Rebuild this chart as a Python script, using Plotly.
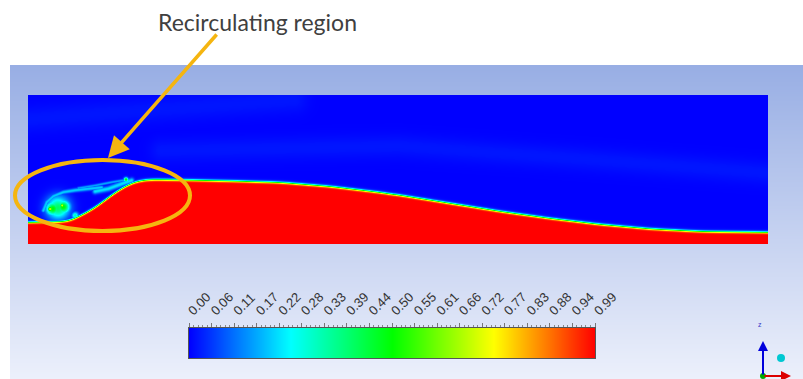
import numpy as np
import plotly.graph_objects as go

# ---------------------------------------------------------------------------
# Data
# ---------------------------------------------------------------------------
# Channel size (m)
channel_length = 5.0
channel_height = 1.0

# Free-surface height along the channel (water below, air above)
interface_x = [0.000, 0.270, 0.358, 0.453, 0.541, 0.628, 0.723, 0.824, 1.027, 1.365,
               1.703, 2.041, 2.378, 2.514, 2.851, 3.189, 3.527, 3.865, 4.203, 4.541,
               5.000]
interface_h = [0.148, 0.154, 0.195, 0.248, 0.315, 0.376, 0.423, 0.436, 0.433, 0.426,
               0.416, 0.389, 0.349, 0.329, 0.275, 0.221, 0.174, 0.134, 0.104, 0.087,
               0.081]

# Entrained water pockets in the recirculation zone: x, y, volume fraction, radius
pocket_x = [0.165, 0.235, 0.200, 0.147, 0.228, 0.316, 0.660]
pocket_y = [0.240, 0.252, 0.246, 0.238, 0.262, 0.195, 0.436]
pocket_val = [0.50, 0.50, 0.40, 0.70, 0.70, 0.32, 0.52]
pocket_r = [0.045, 0.045, 0.075, 0.018, 0.016, 0.022, 0.014]

# Filaments shed from the vortex: polyline points, volume fraction, half-width
filament_x = [[0.101, 0.124, 0.169, 0.236, 0.316, 0.405, 0.495],
              [0.338, 0.451, 0.563, 0.676],
              [0.451, 0.541, 0.630, 0.698]]
filament_y = [[0.228, 0.284, 0.324, 0.351, 0.364, 0.374, 0.383],
              [0.378, 0.396, 0.418, 0.436],
              [0.356, 0.374, 0.407, 0.430]]
filament_val = [0.20, 0.16, 0.22]
filament_w = [0.013, 0.009, 0.017]

# Faint air-phase streaks in the upper channel: polyline points, level, half-width
streak_x = [[0.0, 0.8, 1.8], [0.9, 2.5, 3.8, 5.0]]
streak_y = [[0.84, 0.90, 0.97], [0.63, 0.66, 0.57, 0.48]]
streak_val = [0.02, 0.02]
streak_w = [0.09, 0.08]

# Colour-scale legend labels (water volume fraction)
legend_labels = ["0.00", "0.06", "0.11", "0.17", "0.22", "0.28", "0.33", "0.39",
                 "0.44", "0.50", "0.55", "0.61", "0.66", "0.72", "0.77", "0.83",
                 "0.88", "0.94", "0.99"]
vf_min, vf_max = 0.0, 0.99

# ---------------------------------------------------------------------------
# Volume-fraction field on the mesh
# ---------------------------------------------------------------------------
nx, ny = 740, 150
gx = np.linspace(0, channel_length, nx)
gy = np.linspace(0, channel_height, ny)
X, Y = np.meshgrid(gx, gy)

# free surface, lightly smoothed along the channel
surface = np.interp(gx, interface_x, interface_h)
kernel = np.exp(-0.5 * (np.arange(-15, 16) / 6.0) ** 2)
kernel /= kernel.sum()
padded = np.pad(surface, 15, mode="edge")
surface = np.convolve(padded, kernel, mode="valid")[None, :]

thickness = 0.009
vof = 0.5 * (1 + np.tanh((surface - Y) / thickness))


def dist_to_polyline(xs, ys):
    d = np.full(X.shape, np.inf)
    for i in range(len(xs) - 1):
        ax_, ay_, bx_, by_ = xs[i], ys[i], xs[i + 1], ys[i + 1]
        vx, vy = bx_ - ax_, by_ - ay_
        t = ((X - ax_) * vx + (Y - ay_) * vy) / (vx * vx + vy * vy)
        t = np.clip(t, 0, 1)
        d = np.minimum(d, np.hypot(X - ax_ - t * vx, Y - ay_ - t * vy))
    return d


for sxs, sys_, sv, sw in zip(streak_x, streak_y, streak_val, streak_w):
    vof = np.maximum(vof, sv * np.exp(-(dist_to_polyline(sxs, sys_) / sw) ** 2))

for px, py, pv, pr in zip(pocket_x, pocket_y, pocket_val, pocket_r):
    vof = np.maximum(vof, pv * np.exp(-((X - px) ** 2 + (Y - py) ** 2) / pr ** 2))

for fxs, fys, fv, fw in zip(filament_x, filament_y, filament_val, filament_w):
    vof = np.maximum(vof, fv * np.exp(-(dist_to_polyline(fxs, fys) / fw) ** 2))

vof = np.clip(vof, vf_min, vf_max).round(3)

rainbow = [[0.0, "rgb(0,0,255)"], [0.25, "rgb(0,255,255)"], [0.5, "rgb(0,255,0)"],
           [0.75, "rgb(255,255,0)"], [1.0, "rgb(255,0,0)"]]

W, H = 803, 379


def fx(p):
    return p / W


def fy(p):
    return 1 - p / H


fig = go.Figure()

# Viewport backdrop (vertical gradient)
fig.add_trace(go.Heatmap(
    z=[[0, 0], [1, 1]], x=[0, 1], y=[0, 1], zsmooth="best",
    colorscale=[[0, "rgb(236,240,251)"], [1, "rgb(152,174,228)"]],
    showscale=False, hoverinfo="skip", xaxis="x", yaxis="y"))

# Contours of water volume fraction
fig.add_trace(go.Heatmap(
    z=vof, x=gx, y=gy, zsmooth="best", zmin=vf_min, zmax=vf_max,
    colorscale=rainbow, showscale=False, xaxis="x2", yaxis="y2"))

# Colour legend bar
legend_pos = list(np.linspace(vf_min, vf_max, len(legend_labels)))
fig.add_trace(go.Heatmap(
    z=[legend_pos], x=legend_pos, y=[0], zsmooth="best", zmin=vf_min, zmax=vf_max,
    colorscale=rainbow, showscale=False, hoverinfo="skip", xaxis="x3", yaxis="y3"))

hidden = dict(visible=False, automargin=False, fixedrange=True)

fig.update_layout(
    width=W, height=H, margin=dict(l=0, r=0, t=0, b=0, autoexpand=False),
    paper_bgcolor="white", plot_bgcolor="rgba(0,0,0,0)", showlegend=False,
    xaxis=dict(domain=[fx(10), 1], range=[0, 1], **hidden),
    yaxis=dict(domain=[0, fy(65)], range=[0, 1], **hidden),
    xaxis2=dict(domain=[fx(28), fx(768)], range=[0, channel_length], anchor="y2",
                **hidden),
    yaxis2=dict(domain=[fy(244), fy(95)], range=[0, channel_height], anchor="x2",
                **hidden),
    xaxis3=dict(domain=[fx(189), fx(595)], range=[vf_min, vf_max], anchor="y3",
                automargin=False, fixedrange=True,
                side="top", tickmode="array", tickvals=legend_pos,
                ticktext=legend_labels, tickangle=-45, ticks="outside", ticklen=4,
                tickcolor="#777777", showline=True, mirror=True, linecolor="#555555",
                linewidth=1, showgrid=False, zeroline=False,
                tickfont=dict(family="Liberation Sans", size=13, color="#333333"),
                minor=dict(tickmode="linear", tick0=vf_min, dtick=0.011,
                           ticks="outside", ticklen=2, tickcolor="#888888")),
    yaxis3=dict(domain=[fy(358), fy(328)], range=[-0.5, 0.5], anchor="x3",
                automargin=False, fixedrange=True,
                showline=True, mirror=True, linecolor="#555555", linewidth=1,
                showticklabels=False, ticks="", showgrid=False, zeroline=False),
)

gold = "#F5B510"

# Highlight of the recirculation zone
fig.add_shape(type="circle", xref="paper", yref="paper",
              x0=fx(15), x1=fx(190), y0=fy(231), y1=fy(160),
              line=dict(color=gold, width=4))

fig.add_annotation(text="Recirculating region", xref="paper", yref="paper",
                   x=fx(257), y=fy(22), xanchor="center", yanchor="middle",
                   showarrow=False,
                   font=dict(family="Lato", size=23, color="#404040"))
fig.add_annotation(text="", xref="paper", yref="paper", x=fx(108), y=fy(158),
                   ax=110, ay=-125, showarrow=True, arrowhead=2, arrowsize=1.2,
                   arrowwidth=3.5, arrowcolor=gold, standoff=0)

# Axis triad
fig.add_annotation(text="", xref="paper", yref="paper", x=fx(763), y=fy(341),
                   ax=0, ay=35, showarrow=True, arrowhead=2, arrowsize=1,
                   arrowwidth=2, arrowcolor="rgb(0,0,220)", standoff=0)
fig.add_annotation(text="", xref="paper", yref="paper", x=fx(791), y=fy(376),
                   ax=-28, ay=0, showarrow=True, arrowhead=2, arrowsize=1,
                   arrowwidth=2, arrowcolor="rgb(220,0,0)", standoff=0)
fig.add_annotation(text="z", xref="paper", yref="paper", x=fx(764), y=fy(330),
                   showarrow=False, font=dict(family="Liberation Sans", size=7,
                                              color="rgb(60,60,200)"))
fig.add_shape(type="circle", xref="paper", yref="paper",
              x0=fx(760), x1=fx(766), y0=fy(379), y1=fy(373),
              fillcolor="rgb(0,170,0)", line=dict(width=0))
fig.add_shape(type="circle", xref="paper", yref="paper",
              x0=fx(777), x1=fx(785), y0=fy(362), y1=fy(354),
              fillcolor="rgb(0,200,210)", line=dict(width=0))

fig.write_html("out.html")
